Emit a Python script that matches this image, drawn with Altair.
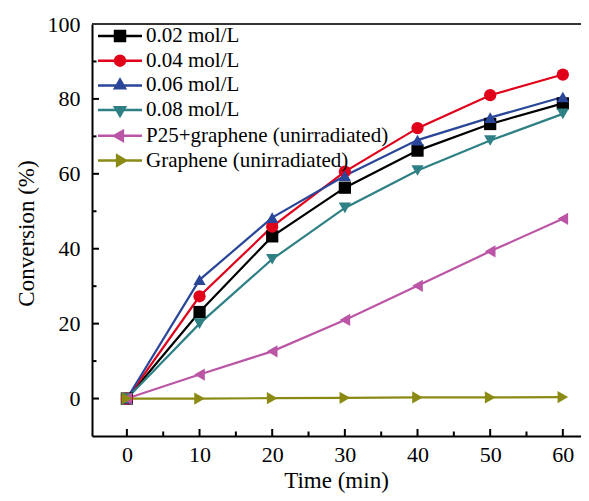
import altair as alt
import pandas as pd

times = [0, 10, 20, 30, 40, 50, 60]
series_names = ["0.02 mol/L", "0.04 mol/L", "0.06 mol/L", "0.08 mol/L",
                "P25+graphene (unirradiated)", "Graphene (unirradiated)"]
c002 = [0, 23.1, 43.3, 56.3, 66.2, 73.3, 78.8]
c004 = [0, 27.3, 45.9, 60.6, 72.2, 81.0, 86.5]
c006 = [0, 31.7, 48.3, 59.5, 69.0, 75.0, 80.5]
c008 = [0, 20.0, 37.2, 50.9, 60.9, 68.9, 76.0]
p25g = [0, 6.4, 12.6, 21.0, 30.1, 39.3, 48.0]
graph = [0, 0.0, 0.1, 0.2, 0.3, 0.3, 0.4]
colors = ["#000000", "#e0001a", "#2a4699", "#2e8085", "#bb55a5", "#8a8a15"]
shapes = ["square", "circle", "triangle-up", "triangle-down", "triangle-left", "triangle-right"]
# legend symbols: a line segment with the marker on it
LINE = "M-4.4,0H4.4"
legend_paths = [
    LINE + "M-1,-1H1V1H-1Z",
    LINE + "M-1,0A1,1,0,1,0,1,0A1,1,0,1,0,-1,0Z",
    LINE + "M0,-1.155L1,0.577L-1,0.577Z",
    LINE + "M0,1.155L1,-0.577L-1,-0.577Z",
    LINE + "M-1.155,0L0.577,-1L0.577,1Z",
    LINE + "M1.155,0L-0.577,-1L-0.577,1Z",
]
x_major = [0, 10, 20, 30, 40, 50, 60]
x_minor = [5, 15, 25, 35, 45, 55]
y_major = [0, 20, 40, 60, 80, 100]
y_minor = [10, 30, 50, 70, 90]

rows = []
for name, vals in zip(series_names, [c002, c004, c006, c008, p25g, graph]):
    for t, v in zip(times, vals):
        rows.append({"Time": t, "Conversion": v, "Series": name})
df = pd.DataFrame(rows)

W, H = 489, 412
FONT = "Liberation Serif"
MAJ, MIN = 7, 4.5

xs = alt.Scale(domain=[-4.8, 62.5], nice=False, zero=False)
ys = alt.Scale(domain=[-10, 100], nice=False, zero=False)
cs = alt.Scale(domain=series_names, range=colors)
ss = alt.Scale(domain=series_names, range=shapes)
ls = alt.Scale(domain=series_names, range=legend_paths)

base = alt.Chart(df)

lines = base.mark_line(strokeWidth=2.2).encode(
    x=alt.X("Time:Q", scale=xs, axis=alt.Axis(
        values=x_major, title="Time (min)", ticks=False, tickSize=0, labelPadding=8,
        labelFontSize=22, titleFontSize=23, titleX=244, titleY=51,
        titleBaseline="alphabetic", titleAlign="center")),
    y=alt.Y("Conversion:Q", scale=ys, axis=alt.Axis(
        values=y_major, title="Conversion (%)", ticks=False, tickSize=0, labelPadding=12,
        labelFontSize=22, titleFontSize=23, titleX=-66, titleY=209, titleAngle=270,
        titleAlign="center", titleBaseline="middle")),
    color=alt.Color("Series:N", scale=cs, legend=None),
)

points = base.mark_point(filled=True, size=150, opacity=1).encode(
    x=alt.X("Time:Q", scale=xs, axis=None),
    y=alt.Y("Conversion:Q", scale=ys, axis=None),
    color=alt.Color("Series:N", scale=cs, legend=None),
    shape=alt.Shape("Series:N", scale=ss, legend=None),
)

legend_layer = base.transform_filter("false").mark_point(
    filled=True, size=100, opacity=1, strokeWidth=2.5).encode(
    fill=alt.Fill("Series:N", scale=cs, legend=alt.Legend(title=None)),
    stroke=alt.Stroke("Series:N", scale=cs, legend=alt.Legend(title=None)),
    shape=alt.Shape("Series:N", scale=ls, legend=alt.Legend(title=None)),
)

# inward-pointing axis ticks (positions from the tick value lists, via the scales)
def xticks(vals, length):
    return alt.Chart(pd.DataFrame({"v": vals})).mark_rule(color="black", strokeWidth=2).encode(
        x=alt.X("v:Q", scale=xs, axis=None), y=alt.value(H), y2=alt.value(H - length))

def yticks(vals, length):
    return alt.Chart(pd.DataFrame({"v": vals})).mark_rule(color="black", strokeWidth=2).encode(
        y=alt.Y("v:Q", scale=ys, axis=None), x=alt.value(0), x2=alt.value(length))

border = alt.Chart(alt.Data(values=[{}])).mark_rule(color="#333333", strokeWidth=2).encode(
    x=alt.value(0), x2=alt.value(W), y=alt.value(0))

chart = alt.layer(
    lines, points, legend_layer,
    xticks(x_major, MAJ), xticks(x_minor, MIN), yticks(y_major, MAJ), yticks(y_minor, MIN),
    border,
).resolve_scale(
    color="independent", shape="independent", fill="independent", stroke="independent"
).resolve_axis(x="independent", y="independent").properties(
    width=W, height=H,
    autosize=alt.AutoSizeParams(type="none"),
    padding={"left": 84, "top": 16, "right": 0, "bottom": 57},
).configure_view(stroke=None).configure_axis(
    grid=False, labelFont=FONT, titleFont=FONT, labelColor="black", titleColor="black",
    titleFontWeight="normal", domainColor="black", domainWidth=2,
    tickColor="black", tickWidth=2,
).configure_legend(
    orient="none", legendX=17.5, legendY=1.5, padding=0, labelFont=FONT,
    labelFontSize=21, labelColor="black", labelOffset=15.5, rowPadding=2.7,
    labelLimit=0, symbolSize=100, symbolStrokeWidth=2.5, symbolOpacity=1,
)

chart.save("out.html", embed_options={"renderer": "svg", "actions": False})
